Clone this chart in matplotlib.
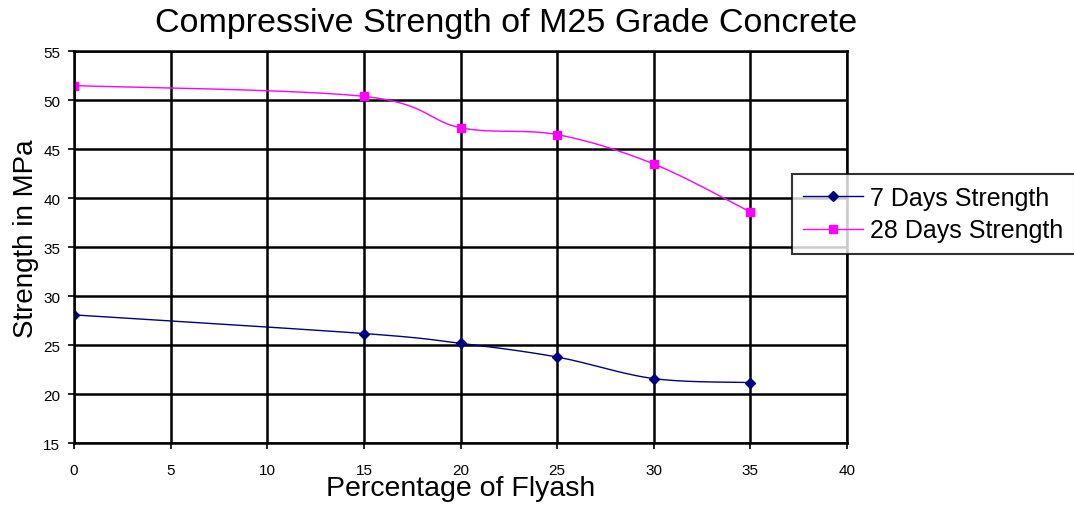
import numpy as np
import matplotlib
matplotlib.use("Agg")
import matplotlib.pyplot as plt

plt.rcParams['font.family'] = ['Liberation Sans', 'DejaVu Sans']

flyash = [0, 15, 20, 25, 30, 35]
days7 = [28.1, 26.2, 25.2, 23.8, 21.6, 21.2]
days28 = [51.5, 50.4, 47.2, 46.5, 43.5, 38.6]
xticks = [0, 5, 10, 15, 20, 25, 30, 35, 40]
yticks = [15, 20, 25, 30, 35, 40, 45, 50, 55]


def smooth(x, y, n=30):
    # catmull-rom curve through the points, like excel's smoothed line
    x = np.asarray(x, float)
    y = np.asarray(y, float)
    px = np.concatenate([[x[0]], x, [x[-1]]])
    py = np.concatenate([[y[0]], y, [y[-1]]])
    xs, ys = [], []
    t = np.linspace(0, 1, n)
    for i in range(1, len(px) - 2):
        for p, out in ((px, xs), (py, ys)):
            p0, p1, p2, p3 = p[i - 1], p[i], p[i + 1], p[i + 2]
            out.extend(0.5 * ((2 * p1) + (-p0 + p2) * t
                              + (2 * p0 - 5 * p1 + 4 * p2 - p3) * t ** 2
                              + (-p0 + 3 * p1 - 3 * p2 + p3) * t ** 3))
    return xs, ys


fig = plt.figure(figsize=(10.74, 5.06), dpi=100)
ax = fig.add_axes([0.069, 0.122, 0.7196, 0.7746])

sx, sy = smooth(flyash, days7)
ax.plot(sx, sy, color='#000080', lw=1)
ax.plot(flyash, days7, ls='none', marker='D', ms=5, color='#000080')
sx, sy = smooth(flyash, days28)
ax.plot(sx, sy, color='#FF00FF', lw=1)
ax.plot(flyash, days28, ls='none', marker='s', ms=6, color='#FF00FF')

# legend handles
h1, = ax.plot([], [], color='#000080', lw=1, marker='D', ms=5, label='7 Days Strength')
h2, = ax.plot([], [], color='#FF00FF', lw=1, marker='s', ms=6, label='28 Days Strength')

ax.set_xlim(0, 40)
ax.set_ylim(15, 55)
ax.set_xticks(xticks)
ax.set_yticks(yticks)
ax.grid(True, color='black', lw=1.8)
ax.set_axisbelow(True)
for s in ax.spines.values():
    s.set_linewidth(1.8)
ax.tick_params(direction='out', length=4, width=1.2, labelsize=11, colors='black')
ax.tick_params(axis='x', pad=10)
ax.tick_params(axis='y', pad=6)

fig.text(0.471, 0.953, 'Compressive Strength of M25 Grade Concrete',
         fontsize=24.5, ha='center', va='center')
ax.set_xlabel('Percentage of Flyash', fontsize=20.5)
ax.xaxis.set_label_coords(0.5, -0.08)
ax.set_ylabel('Strength in MPa', fontsize=20)
ax.yaxis.set_label_coords(-0.046, 0.525)

leg = fig.legend(handles=[h1, h2], loc='center left', bbox_to_anchor=(0.737, 0.575),
                 fontsize=18, frameon=True, fancybox=False, handlelength=2.4,
                 borderpad=0.45, labelspacing=0.35, handletextpad=0.3,
                 borderaxespad=0)
leg.get_frame().set_edgecolor('black')
leg.get_frame().set_linewidth(1.5)

fig.savefig('out.png', dpi=100)
